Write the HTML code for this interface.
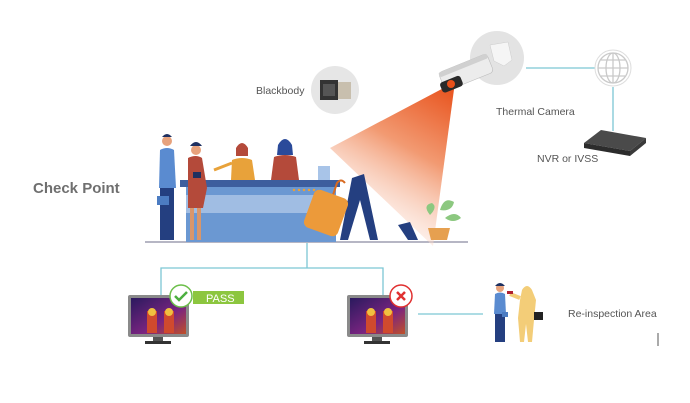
<!DOCTYPE html>
<html><head><meta charset="utf-8"><style>
html,body{margin:0;padding:0;background:#fff;width:690px;height:403px;overflow:hidden}
svg{display:block}
text{font-family:"Liberation Sans",sans-serif}
</style></head><body>
<svg width="690" height="403" viewBox="0 0 690 403" xmlns="http://www.w3.org/2000/svg">
<defs>
<linearGradient id="cone" x1="455" y1="85" x2="370" y2="235" gradientUnits="userSpaceOnUse">
<stop offset="0" stop-color="#e8501a"/><stop offset="0.45" stop-color="#f29a72"/><stop offset="1" stop-color="#fdeee8" stop-opacity="0.3"/>
</linearGradient>
<linearGradient id="scr" x1="0" y1="0" x2="1" y2="1">
<stop offset="0" stop-color="#2a1a5e"/><stop offset="0.6" stop-color="#7a2480"/><stop offset="1" stop-color="#c0502a"/>
</linearGradient>
</defs>

<g stroke="#7cc7d4" stroke-width="1.3" fill="none">
<line x1="526" y1="68" x2="596" y2="68"/>
<line x1="613" y1="87" x2="613" y2="131"/>
<line x1="307" y1="243" x2="307" y2="268"/>
<polyline points="161,296 161,268 383,268 383,296"/>
<line x1="418" y1="314" x2="483" y2="314"/>
</g>
<line x1="658" y1="333" x2="658" y2="346" stroke="#555" stroke-width="1"/>

<text x="33" y="193" font-size="15" font-weight="bold" fill="#6f6f6f">Check Point</text>

<line x1="145" y1="242" x2="468" y2="242" stroke="#8a8aa0" stroke-width="1.2"/>
<rect x="180" y="180" width="160" height="7" fill="#3d5e9e"/>
<rect x="186" y="187" width="150" height="55" fill="#6b98d2"/>
<rect x="186" y="195" width="150" height="18" fill="#b6cdea" opacity="0.7"/>
<g fill="#f0a030"><circle cx="294" cy="190" r="1.2"/><circle cx="299" cy="190" r="1.2"/><circle cx="304" cy="190" r="1.2"/><circle cx="309" cy="190" r="1.2"/><circle cx="314" cy="190" r="1.2"/></g>
<rect x="318" y="166" width="12" height="14" fill="#a8c4e8"/>
<circle cx="167" cy="141" r="5" fill="#e7a27c"/><path d="M162 137 q5 -6 10 0 z" fill="#1e3060"/>
<path d="M160 150 q7 -4 14 0 l2 38 h-17 z" fill="#5a8bd0"/>
<rect x="160" y="188" width="14" height="52" fill="#243f80"/>
<rect x="157" y="196" width="12" height="9" fill="#4c7cc2"/>
<circle cx="196" cy="150" r="5" fill="#e7a27c"/><path d="M190 146 q6 -8 12 0 z" fill="#1e3060"/>
<path d="M188 158 q8 -4 14 0 l5 30 l-4 20 h-15 z" fill="#b44a3a"/>
<rect x="190" y="208" width="4" height="32" fill="#d9966a"/><rect x="197" y="208" width="4" height="32" fill="#d9966a"/>
<rect x="193" y="172" width="8" height="6" fill="#1e3060"/>
<circle cx="242" cy="150" r="5" fill="#e7a27c"/><path d="M236 148 q6 -10 12 0 v8 h-12z" fill="#b44a3a"/>
<path d="M232 160 q10 -4 20 0 l3 20 h-24 z" fill="#e8a23a"/>
<path d="M232 163 l-18 7" stroke="#e8a23a" stroke-width="3"/>
<circle cx="285" cy="145" r="5" fill="#e7a27c"/><path d="M278 145 q7 -12 14 0 l1 10 h-16z" fill="#2a4a9a"/>
<path d="M274 157 q11 -4 22 0 l3 23 h-28 z" fill="#b44a3a"/>
<polygon points="455,82 330,148 433,246" fill="url(#cone)"/>
<path d="M352 178 l12 -4 l14 66 h-8 l-10 -40 l-12 40 h-8 z" fill="#243f80"/>
<path d="M398 225 l10 15 h10 l-8 -18z" fill="#243f80"/>
<path d="M345 183 q-4 -5 -8 0 l-4 12" stroke="#d86a20" stroke-width="2" fill="none"/>
<rect x="308" y="193" width="36" height="40" rx="6" fill="#ec9a3a" transform="rotate(20 326 213)"/>
<path d="M430 215 q-8 -10 2 -12 q6 4 -2 12z M440 210 q4 -14 14 -8 q-2 10 -14 8z M445 218 q10 -8 16 0 q-8 6 -16 0z" fill="#8cc880"/>
<path d="M428 228 h22 l-3 12 h-16z" fill="#e6a050"/>

<circle cx="335" cy="90" r="24" fill="#e6e6e6"/>
<rect x="320" y="80" width="18" height="20" fill="#333"/>
<rect x="338" y="82" width="13" height="17" fill="#c8bfae"/>
<rect x="323" y="84" width="12" height="12" fill="#555"/>
<text x="256" y="94" font-size="10.5" fill="#555">Blackbody</text>

<circle cx="497" cy="58" r="27" fill="#e3e3e3"/>
<path d="M490 45 l18 -3 l4 18 l-8 6 l-10 -5z" fill="#f5f5f5" stroke="#ccc" stroke-width="0.5"/>
<g transform="rotate(-22 467 72)">
<rect x="440" y="62" width="52" height="20" rx="4" fill="#ececec" stroke="#bbb" stroke-width="0.6"/>
<rect x="440" y="62" width="52" height="5" rx="2" fill="#d0d0d0"/>
<rect x="437" y="72" width="22" height="11" rx="3" fill="#2a2a2a"/>
</g>
<circle cx="451" cy="84" r="4" fill="#e8501a"/>
<text x="496" y="115" font-size="10.5" fill="#555">Thermal Camera</text>

<circle cx="613" cy="68" r="18" fill="#fff" stroke="#ddd" stroke-width="1"/>
<g stroke="#c9c9c9" stroke-width="1.3" fill="none">
<circle cx="613" cy="68" r="15"/><ellipse cx="613" cy="68" rx="7" ry="15"/>
<line x1="598" y1="68" x2="628" y2="68"/><line x1="613" y1="53" x2="613" y2="83"/>
<line x1="601" y1="60" x2="625" y2="60"/><line x1="601" y1="76" x2="625" y2="76"/>
</g>
<polygon points="584,143 601,130 646,138 630,151" fill="#4a4a4a"/>
<polygon points="584,143 630,151 630,156 584,148" fill="#2c2c2c"/>
<polygon points="630,151 646,138 646,143 630,156" fill="#3a3a3a"/>
<text x="537" y="162" font-size="10.5" fill="#555">NVR or IVSS</text>

<g>
<rect x="128" y="295" width="61" height="42" rx="2" fill="#8a8a8a"/>
<rect x="131" y="298" width="55" height="36" fill="url(#scr)"/>
<rect x="147" y="311" width="10" height="22" fill="#d04a2e"/><rect x="164" y="311" width="10" height="22" fill="#d04a2e"/>
<circle cx="152" cy="312" r="4" fill="#f0c040"/><circle cx="169" cy="312" r="4" fill="#f0c040"/>
<rect x="153" y="337" width="10" height="4" fill="#555"/><rect x="145" y="341" width="26" height="3" fill="#333"/>
</g>
<g>
<rect x="347" y="295" width="61" height="42" rx="2" fill="#8a8a8a"/>
<rect x="350" y="298" width="55" height="36" fill="url(#scr)"/>
<rect x="366" y="311" width="10" height="22" fill="#d04a2e"/><rect x="383" y="311" width="10" height="22" fill="#d04a2e"/>
<circle cx="371" cy="312" r="4" fill="#f0c040"/><circle cx="388" cy="312" r="4" fill="#f0c040"/>
<rect x="372" y="337" width="10" height="4" fill="#555"/><rect x="364" y="341" width="26" height="3" fill="#333"/>
</g>
<rect x="193" y="291" width="51" height="13" fill="#8cc63f"/>
<text x="206" y="302" font-size="11" fill="#fff" font-family="Liberation Serif,serif">PASS</text>
<circle cx="181" cy="296" r="11" fill="#fff" stroke="#6cbf4a" stroke-width="1.5"/>
<path d="M175 296 l4 4 l8 -8" stroke="#4caf40" stroke-width="2.5" fill="none"/>
<circle cx="401" cy="296" r="11" fill="#fff" stroke="#e03030" stroke-width="1.5"/>
<path d="M397 292 l8 8 M405 292 l-8 8" stroke="#e03030" stroke-width="2.5"/>

<circle cx="500" cy="288" r="4" fill="#e7a27c"/><path d="M495 286 q5 -6 10 0z" fill="#1e3060"/>
<path d="M495 294 q5 -3 10 0 l1 20 h-12z" fill="#5a8bd0"/>
<rect x="495" y="314" width="10" height="28" fill="#243f80"/>
<rect x="502" y="312" width="6" height="5" fill="#4c7cc2"/>
<path d="M522 290 q5 -8 10 0 l4 10 l-2 20 l-2 22 h-4 l-2 -18 l-2 18 h-4 l-2 -24 l2 -18z" fill="#f3cd78"/>
<path d="M520 298 l-10 -4" stroke="#f3cd78" stroke-width="4"/>
<rect x="507" y="291" width="6" height="3" fill="#b02030"/>
<rect x="534" y="312" width="9" height="8" fill="#222"/>
<text x="568" y="317" font-size="10.5" fill="#555">Re-inspection Area</text>
</svg>
</body></html>
